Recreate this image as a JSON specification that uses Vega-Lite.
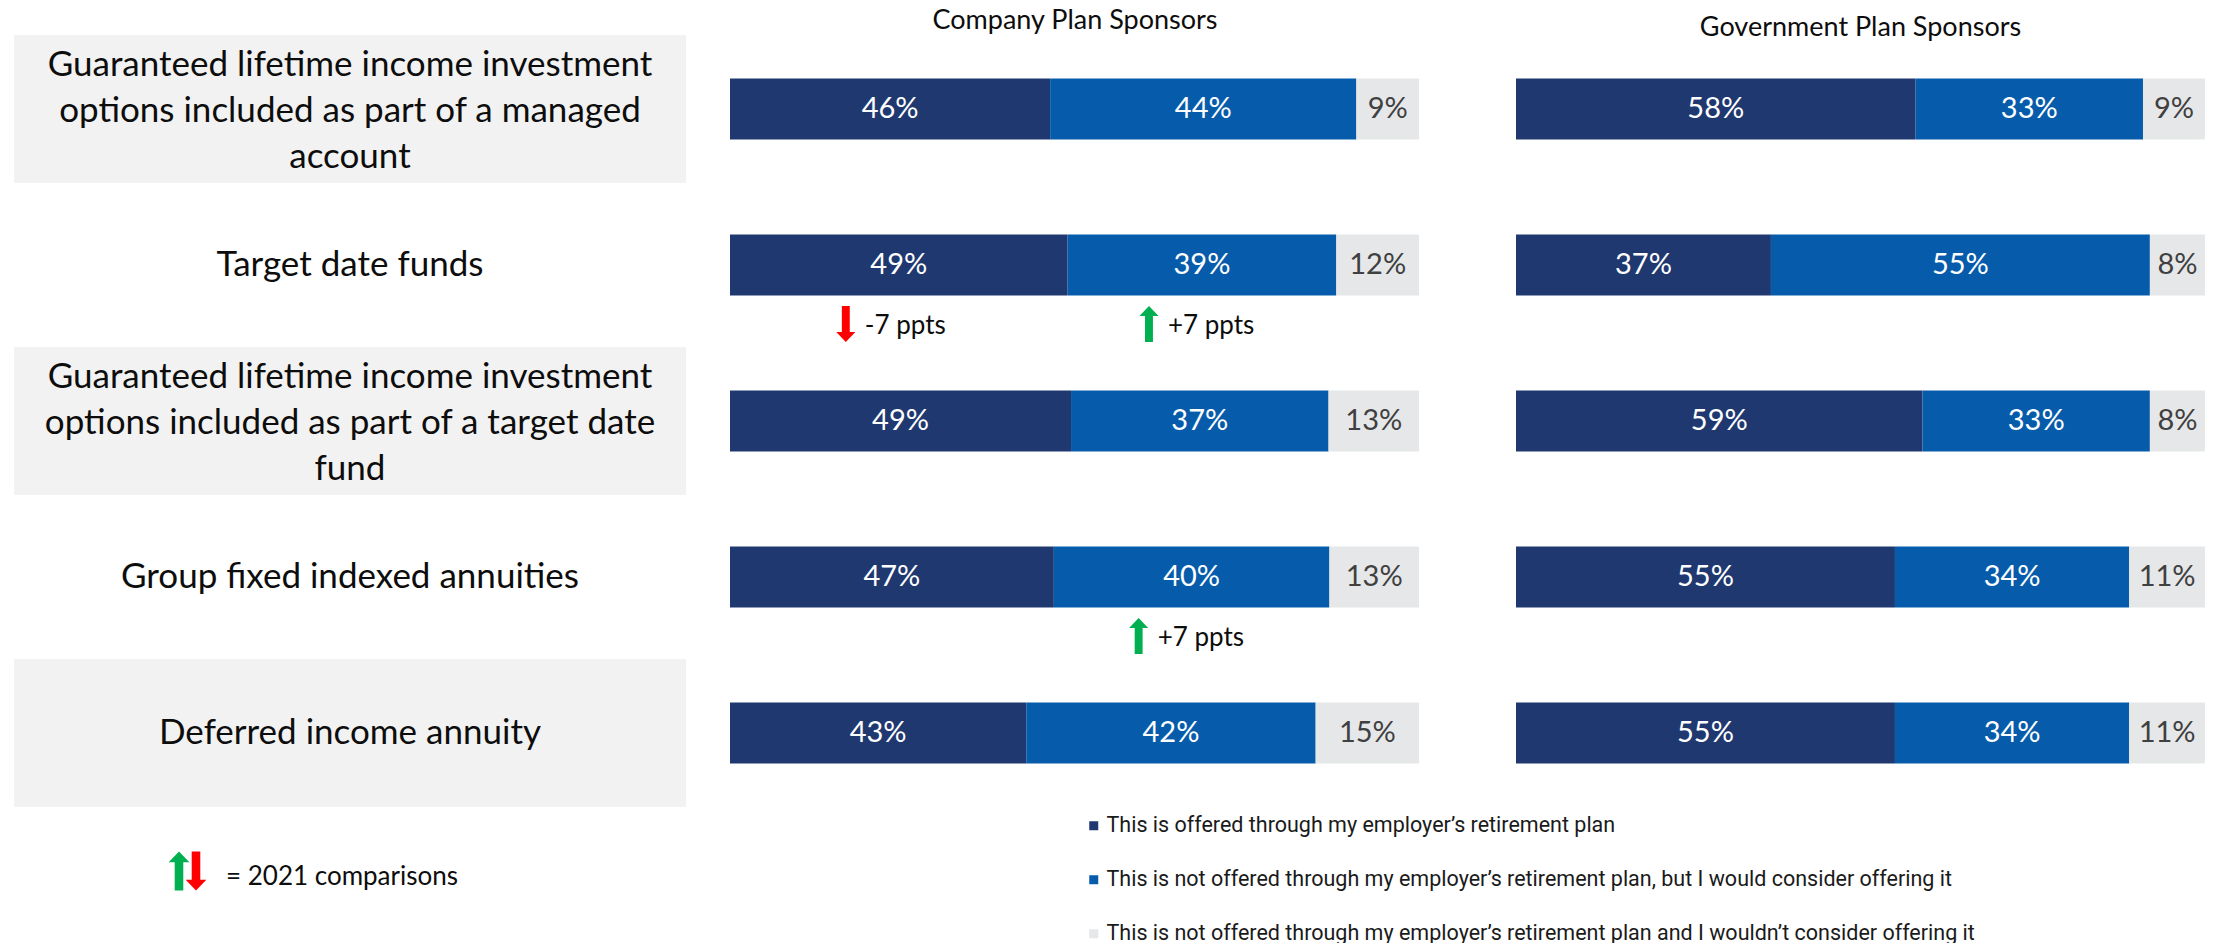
{
  "$schema": "https://vega.github.io/schema/vega-lite/v6.json",
  "padding": {"left": 14, "top": 7, "right": 0, "bottom": 0},
  "background": "white",
  "bounds": "flush",
  "spacing": 44,
  "config": {
    "font": "Lato",
    "view": {"stroke": null},
    "title": {"font": "Lato", "fontSize": 27, "fontWeight": "normal", "color": "#0d0d0d", "baseline": "bottom"}
  },
  "datasets": {
    "bars": [
      {"panel": "Company", "r": 1, "cat": "This is offered through my employer’s retirement plan", "v": 0.46, "chg": "", "dir": ""},
      {"panel": "Company", "r": 1, "cat": "This is not offered through my employer’s retirement plan, but I would consider offering it", "v": 0.44, "chg": "", "dir": ""},
      {"panel": "Company", "r": 1, "cat": "This is not offered through my employer’s retirement plan and I wouldn’t consider offering it", "v": 0.09, "chg": "", "dir": ""},
      {"panel": "Company", "r": 2, "cat": "This is offered through my employer’s retirement plan", "v": 0.49, "chg": "-7 ppts", "dir": "down"},
      {"panel": "Company", "r": 2, "cat": "This is not offered through my employer’s retirement plan, but I would consider offering it", "v": 0.39, "chg": "+7 ppts", "dir": "up"},
      {"panel": "Company", "r": 2, "cat": "This is not offered through my employer’s retirement plan and I wouldn’t consider offering it", "v": 0.12, "chg": "", "dir": ""},
      {"panel": "Company", "r": 3, "cat": "This is offered through my employer’s retirement plan", "v": 0.49, "chg": "", "dir": ""},
      {"panel": "Company", "r": 3, "cat": "This is not offered through my employer’s retirement plan, but I would consider offering it", "v": 0.37, "chg": "", "dir": ""},
      {"panel": "Company", "r": 3, "cat": "This is not offered through my employer’s retirement plan and I wouldn’t consider offering it", "v": 0.13, "chg": "", "dir": ""},
      {"panel": "Company", "r": 4, "cat": "This is offered through my employer’s retirement plan", "v": 0.47, "chg": "", "dir": ""},
      {"panel": "Company", "r": 4, "cat": "This is not offered through my employer’s retirement plan, but I would consider offering it", "v": 0.40, "chg": "+7 ppts", "dir": "up"},
      {"panel": "Company", "r": 4, "cat": "This is not offered through my employer’s retirement plan and I wouldn’t consider offering it", "v": 0.13, "chg": "", "dir": ""},
      {"panel": "Company", "r": 5, "cat": "This is offered through my employer’s retirement plan", "v": 0.43, "chg": "", "dir": ""},
      {"panel": "Company", "r": 5, "cat": "This is not offered through my employer’s retirement plan, but I would consider offering it", "v": 0.42, "chg": "", "dir": ""},
      {"panel": "Company", "r": 5, "cat": "This is not offered through my employer’s retirement plan and I wouldn’t consider offering it", "v": 0.15, "chg": "", "dir": ""},
      {"panel": "Government", "r": 1, "cat": "This is offered through my employer’s retirement plan", "v": 0.58, "chg": "", "dir": ""},
      {"panel": "Government", "r": 1, "cat": "This is not offered through my employer’s retirement plan, but I would consider offering it", "v": 0.33, "chg": "", "dir": ""},
      {"panel": "Government", "r": 1, "cat": "This is not offered through my employer’s retirement plan and I wouldn’t consider offering it", "v": 0.09, "chg": "", "dir": ""},
      {"panel": "Government", "r": 2, "cat": "This is offered through my employer’s retirement plan", "v": 0.37, "chg": "", "dir": ""},
      {"panel": "Government", "r": 2, "cat": "This is not offered through my employer’s retirement plan, but I would consider offering it", "v": 0.55, "chg": "", "dir": ""},
      {"panel": "Government", "r": 2, "cat": "This is not offered through my employer’s retirement plan and I wouldn’t consider offering it", "v": 0.08, "chg": "", "dir": ""},
      {"panel": "Government", "r": 3, "cat": "This is offered through my employer’s retirement plan", "v": 0.59, "chg": "", "dir": ""},
      {"panel": "Government", "r": 3, "cat": "This is not offered through my employer’s retirement plan, but I would consider offering it", "v": 0.33, "chg": "", "dir": ""},
      {"panel": "Government", "r": 3, "cat": "This is not offered through my employer’s retirement plan and I wouldn’t consider offering it", "v": 0.08, "chg": "", "dir": ""},
      {"panel": "Government", "r": 4, "cat": "This is offered through my employer’s retirement plan", "v": 0.55, "chg": "", "dir": ""},
      {"panel": "Government", "r": 4, "cat": "This is not offered through my employer’s retirement plan, but I would consider offering it", "v": 0.34, "chg": "", "dir": ""},
      {"panel": "Government", "r": 4, "cat": "This is not offered through my employer’s retirement plan and I wouldn’t consider offering it", "v": 0.11, "chg": "", "dir": ""},
      {"panel": "Government", "r": 5, "cat": "This is offered through my employer’s retirement plan", "v": 0.55, "chg": "", "dir": ""},
      {"panel": "Government", "r": 5, "cat": "This is not offered through my employer’s retirement plan, but I would consider offering it", "v": 0.34, "chg": "", "dir": ""},
      {"panel": "Government", "r": 5, "cat": "This is not offered through my employer’s retirement plan and I wouldn’t consider offering it", "v": 0.11, "chg": "", "dir": ""}
    ],
    "labels": [
      {"r": 1, "label": ["Guaranteed lifetime income investment", "options included as part of a managed", "account"]},
      {"r": 2, "label": ["Target date funds"]},
      {"r": 3, "label": ["Guaranteed lifetime income investment", "options included as part of a target date", "fund"]},
      {"r": 4, "label": ["Group fixed indexed annuities"]},
      {"r": 5, "label": ["Deferred income annuity"]}
    ]
  },
  "hconcat": [
    {
      "width": 672,
      "height": {"step": 156},
      "data": {"name": "labels"},
      "encoding": {
        "y": {"field": "r", "type": "ordinal", "axis": null, "scale": {"type": "band", "paddingInner": 0, "paddingOuter": 0, "domain": [1, 2, 3, 4, 5, 6]}}
      },
      "layer": [
        {
          "mark": {"type": "rect", "height": {"band": 0.95}},
          "encoding": {
            "x": {"datum": 0, "type": "quantitative", "axis": null, "scale": {"domain": [0, 1]}},
            "x2": {"datum": 1},
            "color": {"condition": {"test": "datum.r % 2 == 1", "value": "#F2F2F2"}, "value": "rgba(255,255,255,0)"}
          }
        },
        {
          "transform": [{"filter": "length(datum.label) == 1"}],
          "mark": {"type": "text", "fontSize": 35, "align": "center", "baseline": "middle", "color": "#0d0d0d"},
          "encoding": {
            "x": {"datum": 0.5, "type": "quantitative", "axis": null, "scale": {"domain": [0, 1]}},
            "text": {"field": "label"}
          }
        },
        {
          "transform": [{"filter": "length(datum.label) > 1"}],
          "mark": {"type": "text", "fontSize": 35, "lineHeight": 46, "align": "center", "baseline": "middle", "dy": -44, "color": "#0d0d0d"},
          "encoding": {
            "x": {"datum": 0.5, "type": "quantitative", "axis": null, "scale": {"domain": [0, 1]}},
            "text": {"field": "label"}
          }
        },
        {
          "data": {"values": [{"r": 6, "t": "= 2021 comparisons"}]},
          "mark": {"type": "text", "fontSize": 26, "align": "left", "baseline": "middle", "dx": 44, "dy": -12, "color": "#0d0d0d"},
          "encoding": {
            "x": {"datum": 0.25, "type": "quantitative", "axis": null, "scale": {"domain": [0, 1]}},
            "text": {"field": "t"}
          }
        },
        {
          "data": {"values": [{"r": 6, "dir": "up"}]},
          "mark": {"type": "point", "filled": true, "size": 1521, "opacity": 1, "color": "#00B050", "strokeWidth": 0, "xOffset": -3, "yOffset": -18,
                   "shape": "M-0.22,1L-0.22,-0.45L-0.53,-0.45L0,-1L0.53,-0.45L0.22,-0.45L0.22,1Z"},
          "encoding": {
            "x": {"datum": 0.25, "type": "quantitative", "axis": null, "scale": {"domain": [0, 1]}}
          }
        },
        {
          "data": {"values": [{"r": 6, "dir": "down"}]},
          "mark": {"type": "point", "filled": true, "size": 1521, "opacity": 1, "color": "#FF0000", "strokeWidth": 0, "xOffset": 14, "yOffset": -18,
                   "shape": "M-0.22,-1L-0.22,0.45L-0.53,0.45L0,1L0.53,0.45L0.22,0.45L0.22,-1Z"},
          "encoding": {
            "x": {"datum": 0.25, "type": "quantitative", "axis": null, "scale": {"domain": [0, 1]}}
          }
        }
      ]
    },
    {
      "width": 742,
      "height": {"step": 156},
      "title": {"text": "Company Plan Sponsors", "dx": -26, "offset": -4},
      "data": {"name": "bars"},
      "transform": [{"filter": "datum.panel == 'Company'"}],
      "encoding": {
        "y": {"field": "r", "type": "ordinal", "axis": null, "scale": {"type": "band", "paddingInner": 0, "paddingOuter": 0, "domain": [1, 2, 3, 4, 5]}},
        "order": {"field": "cat", "sort": "descending"}
      },
      "layer": [
        {
          "mark": {"type": "bar", "height": {"band": 0.39}},
          "encoding": {
            "x": {"field": "v", "type": "quantitative", "stack": "normalize", "axis": null, "scale": {"domain": [0, 1.0769]}},
            "color": {
              "field": "cat", "type": "nominal",
              "scale": {
                "domain": ["This is offered through my employer’s retirement plan", "This is not offered through my employer’s retirement plan, but I would consider offering it", "This is not offered through my employer’s retirement plan and I wouldn’t consider offering it"],
                "range": ["#203870", "#065CAB", "#E6E7E8"]
              },
              "legend": {"orient": "none", "legendX": 1069, "legendY": 784, "direction": "vertical", "title": null, "symbolType": "square", "symbolSize": 81, "symbolStrokeWidth": 0, "labelFont": "Liberation Sans Narrow, Roboto", "labelFontSize": 21.5, "labelLimit": 1000, "rowPadding": 31, "labelOffset": 2, "padding": 0, "labelColor": "#1a1a1a"}
            }
          }
        },
        {
          "mark": {"type": "text", "fontSize": 29, "align": "center", "baseline": "middle"},
          "encoding": {
            "x": {"field": "v", "type": "quantitative", "stack": "normalize", "bandPosition": 0.5, "axis": null, "scale": {"domain": [0, 1.0769]}},
            "detail": {"field": "cat"},
            "text": {"field": "v", "format": ".0%"},
            "color": {"condition": {"test": "indexof(datum.cat, 'wouldn') >= 0", "value": "#404040"}, "value": "white"}
          }
        },
        {
          "mark": {"type": "text", "fontSize": 26, "align": "left", "baseline": "middle", "dx": -34, "dy": 61, "color": "#0d0d0d"},
          "encoding": {
            "x": {"field": "v", "type": "quantitative", "stack": "normalize", "bandPosition": 0.5, "axis": null, "scale": {"domain": [0, 1.0769]}},
            "detail": {"field": "cat"},
            "text": {"field": "chg"}
          }
        },
        {
          "mark": {"type": "point", "filled": true, "size": 1296, "strokeWidth": 0, "xOffset": -53, "yOffset": 59},
          "encoding": {
            "x": {"field": "v", "type": "quantitative", "stack": "normalize", "bandPosition": 0.5, "axis": null, "scale": {"domain": [0, 1.0769]}},
            "detail": {"field": "cat"},
            "shape": {"condition": {"test": "datum.dir == 'up'", "value": "M-0.22,1L-0.22,-0.45L-0.53,-0.45L0,-1L0.53,-0.45L0.22,-0.45L0.22,1Z"}, "value": "M-0.22,-1L-0.22,0.45L-0.53,0.45L0,1L0.53,0.45L0.22,0.45L0.22,-1Z"},
            "color": {"condition": {"test": "datum.dir == 'up'", "value": "#00B050"}, "value": "#FF0000"},
            "opacity": {"condition": {"test": "datum.dir != ''", "value": 1}, "value": 0}
          }
        }
      ]
    },
    {
      "width": 689,
      "height": {"step": 156},
      "title": {"text": "Government Plan Sponsors", "offset": -11},
      "data": {"name": "bars"},
      "transform": [{"filter": "datum.panel == 'Government'"}],
      "encoding": {
        "y": {"field": "r", "type": "ordinal", "axis": null, "scale": {"type": "band", "paddingInner": 0, "paddingOuter": 0, "domain": [1, 2, 3, 4, 5]}},
        "order": {"field": "cat", "sort": "descending"}
      },
      "layer": [
        {
          "mark": {"type": "bar", "height": {"band": 0.39}},
          "encoding": {
            "x": {"field": "v", "type": "quantitative", "stack": "normalize", "axis": null, "scale": {"domain": [0, 1]}},
            "color": {
              "field": "cat", "type": "nominal",
              "scale": {
                "domain": ["This is offered through my employer’s retirement plan", "This is not offered through my employer’s retirement plan, but I would consider offering it", "This is not offered through my employer’s retirement plan and I wouldn’t consider offering it"],
                "range": ["#203870", "#065CAB", "#E6E7E8"]
              },
              "legend": {"orient": "none", "legendX": 1069, "legendY": 784, "direction": "vertical", "title": null, "symbolType": "square", "symbolSize": 81, "symbolStrokeWidth": 0, "labelFont": "Liberation Sans Narrow, Roboto", "labelFontSize": 21.5, "labelLimit": 1000, "rowPadding": 31, "labelOffset": 2, "padding": 0, "labelColor": "#1a1a1a"}
            }
          }
        },
        {
          "mark": {"type": "text", "fontSize": 29, "align": "center", "baseline": "middle"},
          "encoding": {
            "x": {"field": "v", "type": "quantitative", "stack": "normalize", "bandPosition": 0.5, "axis": null, "scale": {"domain": [0, 1]}},
            "detail": {"field": "cat"},
            "text": {"field": "v", "format": ".0%"},
            "color": {"condition": {"test": "indexof(datum.cat, 'wouldn') >= 0", "value": "#404040"}, "value": "white"}
          }
        }
      ]
    }
  ]
}
